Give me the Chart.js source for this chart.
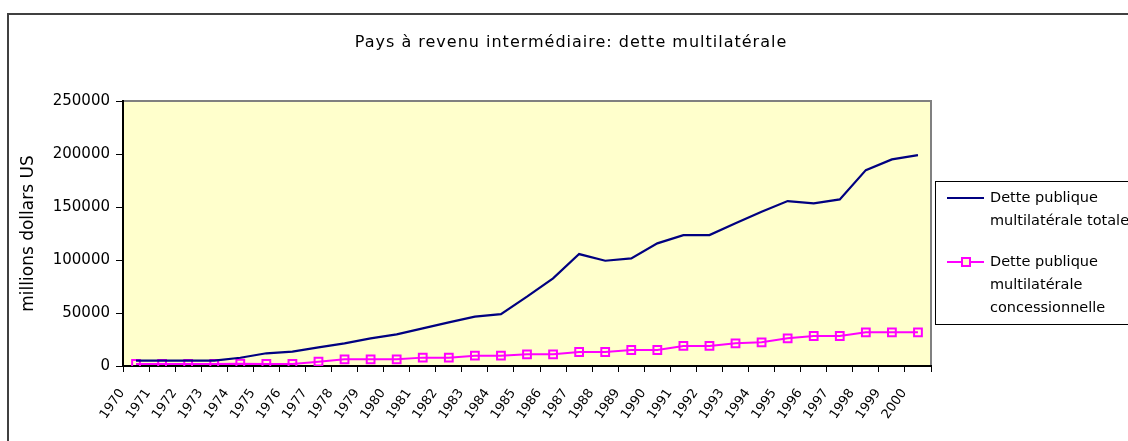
<!DOCTYPE html>
<html>
<head>
<meta charset="utf-8">
<script src="https://cdn.jsdelivr.net/npm/chart.js@4/dist/chart.umd.min.js"></script>
<style>
  body { margin: 0; background: #fff; overflow: hidden; }
  #wrap { position: relative; width: 1128px; height: 441px; overflow: hidden; }
  #frame { position: absolute; left: 7px; top: 13px; width: 1300px; height: 600px;
           border-left: 2px solid #404040; border-top: 2px solid #404040; }
  #title { position: absolute; left: 0; top: 32px; width: 1142px; text-align: center;
           font: 16px "DejaVu Sans", sans-serif; letter-spacing: 1px; color: #000; }
  #legend { position: absolute; left: 935px; top: 181px; width: 260px; height: 142px;
            border: 1.5px solid #000; font: 14.5px "DejaVu Sans", sans-serif; color: #000; }
  .item { position: absolute; left: 0; }
  .txt { position: absolute; left: 54px; top: 0; line-height: 23px; white-space: nowrap; }
  .swatch { position: absolute; left: 11px; width: 37px; height: 2px; }
  .mk { position: absolute; left: 14px; top: -4px; width: 6px; height: 6px; border: 2px solid #ff00ff; background: #ffffcc; }
  canvas { position: absolute; left: 0; top: 0; }
</style>
</head>
<body>
<div id="wrap">
  <div id="frame"></div>
  <canvas id="c" width="1128" height="441"></canvas>
  <div id="title">Pays à revenu intermédiaire: dette multilatérale</div>
  <div id="legend"></div>
</div>
<script>
// données (millions dollars US)
const years = ['1970','1971','1972','1973','1974','1975','1976','1977','1978','1979',
  '1980','1981','1982','1983','1984','1985','1986','1987','1988','1989',
  '1990','1991','1992','1993','1994','1995','1996','1997','1998','1999','2000'];
const detteTotale = [5000, 5000, 5000, 5000, 7800, 12000, 13500, 17600, 21400, 26100,
  29900, 35500, 41200, 46500, 49000, 65400, 82700, 105600, 99300, 101500,
  115700, 123500, 123500, 134600, 145500, 155600, 153400, 157200, 184800, 194900, 199000];
const detteConcess = [1900, 1900, 1900, 1900, 2200, 1900, 1900, 4100, 6300, 6300,
  6300, 7900, 7900, 9700, 9700, 11000, 11000, 13200, 13200, 15100,
  15100, 18900, 18900, 21400, 22300, 26100, 28300, 28300, 31800, 31800, 31800];
const yTicks = [0, 50000, 100000, 150000, 200000, 250000];
const legendLines = [
  ['Dette publique', 'multilatérale totale'],
  ['Dette publique', 'multilatérale', 'concessionnelle']
];

const NAVY = '#000080';
const PINK = '#ff00ff';
const FONT = 'DejaVu Sans';

// fond jaune + cadre gris de la zone de tracé
const plotBg = {
  id: 'plotBg',
  beforeDraw(chart) {
    const { ctx, chartArea: a } = chart;
    ctx.save();
    ctx.fillStyle = '#ffffcc';
    ctx.fillRect(a.left, a.top, a.right - a.left, a.bottom - a.top);
    ctx.strokeStyle = '#808080';
    ctx.lineWidth = 2;
    ctx.beginPath();
    ctx.moveTo(a.left, a.top);
    ctx.lineTo(a.right, a.top);
    ctx.lineTo(a.right, a.bottom);
    ctx.stroke();
    ctx.restore();
  }
};

new Chart(document.getElementById('c'), {
  type: 'line',
  data: {
    labels: years,
    datasets: [{
      label: legendLines[0].join(' '),
      data: detteTotale,
      borderColor: NAVY,
      borderWidth: 2.2,
      pointRadius: 0,
      tension: 0
    }, {
      label: legendLines[1].join(' '),
      data: detteConcess,
      borderColor: PINK,
      borderWidth: 2,
      pointStyle: 'rect',
      pointRadius: 5.5,
      pointBorderWidth: 2,
      pointBorderColor: PINK,
      pointBackgroundColor: 'rgba(0,0,0,0)',
      tension: 0
    }]
  },
  options: {
    responsive: false,
    animation: false,
    layout: { padding: { left: 0, top: 101, right: 197, bottom: 0 } },
    plugins: { legend: { display: false }, title: { display: false }, tooltip: { enabled: false } },
    scales: {
      x: {
        offset: true,
        grid: { offset: true, drawOnChartArea: false, drawTicks: true, tickLength: 6, color: '#000' },
        border: { color: '#000', width: 2 },
        ticks: {
          color: '#000', font: { family: FONT, size: 13 },
          minRotation: 55, maxRotation: 55, autoSkip: false, padding: 14, labelOffset: -14
        },
        afterFit(s) { s.height = 75; }
      },
      y: {
        min: 0, max: 250000,
        afterBuildTicks(s) { s.ticks = yTicks.map(v => ({ value: v })); },
        grid: { drawOnChartArea: false, drawTicks: true, tickLength: 7, color: '#000' },
        border: { color: '#000', width: 2 },
        ticks: { color: '#000', font: { family: FONT, size: 15 }, padding: 6, callback: v => String(v) },
        title: {
          display: true, text: 'millions dollars US', color: '#000',
          font: { family: FONT, size: 17 }, padding: { top: 18, bottom: 0 }
        },
        afterFit(s) { s.width = 123; }
      }
    }
  },
  plugins: [plotBg]
});

// légende à droite, texte sur plusieurs lignes
const leg = document.getElementById('legend');
const tops = [4, 68];
legendLines.forEach((lines, i) => {
  const item = document.createElement('div');
  item.className = 'item';
  item.style.top = tops[i] + 'px';
  const sw = document.createElement('div');
  sw.className = 'swatch';
  sw.style.top = '11px';
  sw.style.background = i === 0 ? NAVY : PINK;
  if (i === 1) {
    const mk = document.createElement('div');
    mk.className = 'mk';
    sw.appendChild(mk);
  }
  const t = document.createElement('div');
  t.className = 'txt';
  t.innerHTML = lines.join('<br>');
  item.appendChild(sw);
  item.appendChild(t);
  leg.appendChild(item);
});
</script>
</body>
</html>
